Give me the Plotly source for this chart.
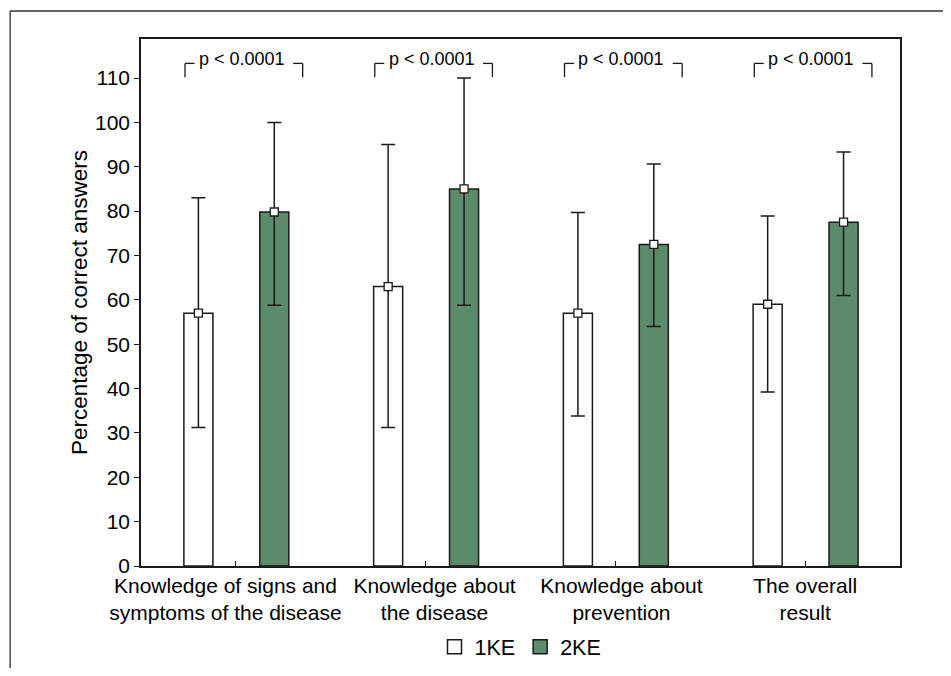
import plotly.graph_objects as go

categories = ["Knowledge of signs and<br>symptoms of the disease",
              "Knowledge about<br>the disease",
              "Knowledge about<br>prevention",
              "The overall<br>result"]
label_shift = [-0.055, 0.047, 0.032, 0.0]   # horizontal placement of the category labels
mean_1ke = [57.0, 63.0, 57.0, 59.0]
upper_1ke = [83.0, 95.0, 79.7, 78.9]
lower_1ke = [31.2, 31.2, 33.8, 39.2]
mean_2ke = [79.8, 85.0, 72.5, 77.5]
upper_2ke = [100.0, 110.0, 90.6, 93.3]
lower_2ke = [58.8, 58.8, 54.0, 61.0]
p_labels = ["p < 0.0001"] * 4
y_ticks = list(range(0, 111, 10))

FONT = "Liberation Sans, Arial, sans-serif"
GREEN = "#5c8b6b"
DARK = "#1a1a1a"
idx = list(range(len(categories)))
W = 0.153
OFF1, OFF2 = -0.274, 0.126

fig = go.Figure()
for name, means, off, col in [
    ("1KE", mean_1ke, OFF1, "white"),
    ("2KE", mean_2ke, OFF2, GREEN),
]:
    fig.add_trace(go.Bar(x=idx, y=means, width=W, offset=off, name=name, showlegend=False,
                         marker=dict(color=col, line=dict(color=DARK, width=1.5))))
for means, up, lo, off in [(mean_1ke, upper_1ke, lower_1ke, OFF1),
                           (mean_2ke, upper_2ke, lower_2ke, OFF2)]:
    xs = [i + off + W / 2 for i in idx]
    fig.add_trace(go.Scatter(
        x=xs, y=means, mode="markers", showlegend=False,
        marker=dict(symbol="square", size=8, color="white",
                    line=dict(color=DARK, width=1.3)),
        error_y=dict(type="data", symmetric=False,
                     array=[u - m for u, m in zip(up, means)],
                     arrayminus=[m - l for l, m in zip(lo, means)],
                     color=DARK, thickness=1.5, width=7)))
# legend entries
for name, col in [("1KE", "white"), ("2KE", GREEN)]:
    fig.add_trace(go.Scatter(x=[None], y=[None], mode="markers", name=name,
                             marker=dict(symbol="square", size=14, color=col,
                                         line=dict(color=DARK, width=1.5))))

for i, lab in zip(idx, p_labels):
    xl, xr = i - 0.268, i + 0.352
    fig.add_shape(type="line", x0=xl, x1=xl, y0=110.2, y1=113.3, xref="x", yref="y",
                  line=dict(color=DARK, width=1.3))
    fig.add_shape(type="line", x0=xl, x1=xl + 0.05, y0=113.3, y1=113.3, xref="x", yref="y",
                  line=dict(color=DARK, width=1.3))
    fig.add_shape(type="line", x0=xr, x1=xr, y0=110.2, y1=113.3, xref="x", yref="y",
                  line=dict(color=DARK, width=1.3))
    fig.add_shape(type="line", x0=xr - 0.05, x1=xr, y0=113.3, y1=113.3, xref="x", yref="y",
                  line=dict(color=DARK, width=1.3))
    fig.add_annotation(x=i + 0.032, y=114.3, text=lab, showarrow=False, xref="x", yref="y",
                       font=dict(family=FONT, size=18, color="black"))

# outer frame (left and top edges)
fig.add_shape(type="line", xref="paper", yref="paper", x0=-0.1724, x1=1.1, y0=1.0531, y1=1.0531,
              line=dict(color="#333", width=1.3))
fig.add_shape(type="line", xref="paper", yref="paper", x0=-0.1724, x1=-0.1724, y0=1.0531, y1=-0.25,
              line=dict(color="#333", width=1.3))

fig.update_layout(
    width=935, height=660,
    margin=dict(l=133, r=43, t=31, b=102),
    plot_bgcolor="white", paper_bgcolor="white",
    font=dict(family=FONT, size=21, color="black"),
    barmode="overlay",
    legend=dict(orientation="h", x=0.5, xanchor="center", xref="paper",
                y=0.032, yanchor="middle", yref="container",
                font=dict(family=FONT, size=21.5), itemwidth=30, traceorder="normal"),
    xaxis=dict(range=[-0.5, 3.5], tickvals=[i + s for i, s in zip(idx, label_shift)],
               ticktext=categories, tickangle=0, ticks="", ticklabelstandoff=0,
               automargin=False,
               minor=dict(tickmode="array", tickvals=idx, ticks="inside", ticklen=5,
                          tickwidth=1.3, tickcolor=DARK, showgrid=False),
               showline=True, linecolor=DARK, linewidth=1.5, mirror=True,
               showgrid=False, zeroline=False, tickfont=dict(family=FONT, size=21)),
    yaxis=dict(range=[0, 118.8], tickvals=y_ticks, ticks="outside", ticklen=5,
               tickwidth=1.3, tickcolor=DARK, automargin=False,
               showline=True, linecolor=DARK, linewidth=1.5, mirror=True,
               showgrid=False, zeroline=False, tickfont=dict(family=FONT, size=21),
               title=dict(text="Percentage of correct answers", standoff=1,
                          font=dict(family=FONT, size=22.5))),
)
fig.write_html("out.html")
